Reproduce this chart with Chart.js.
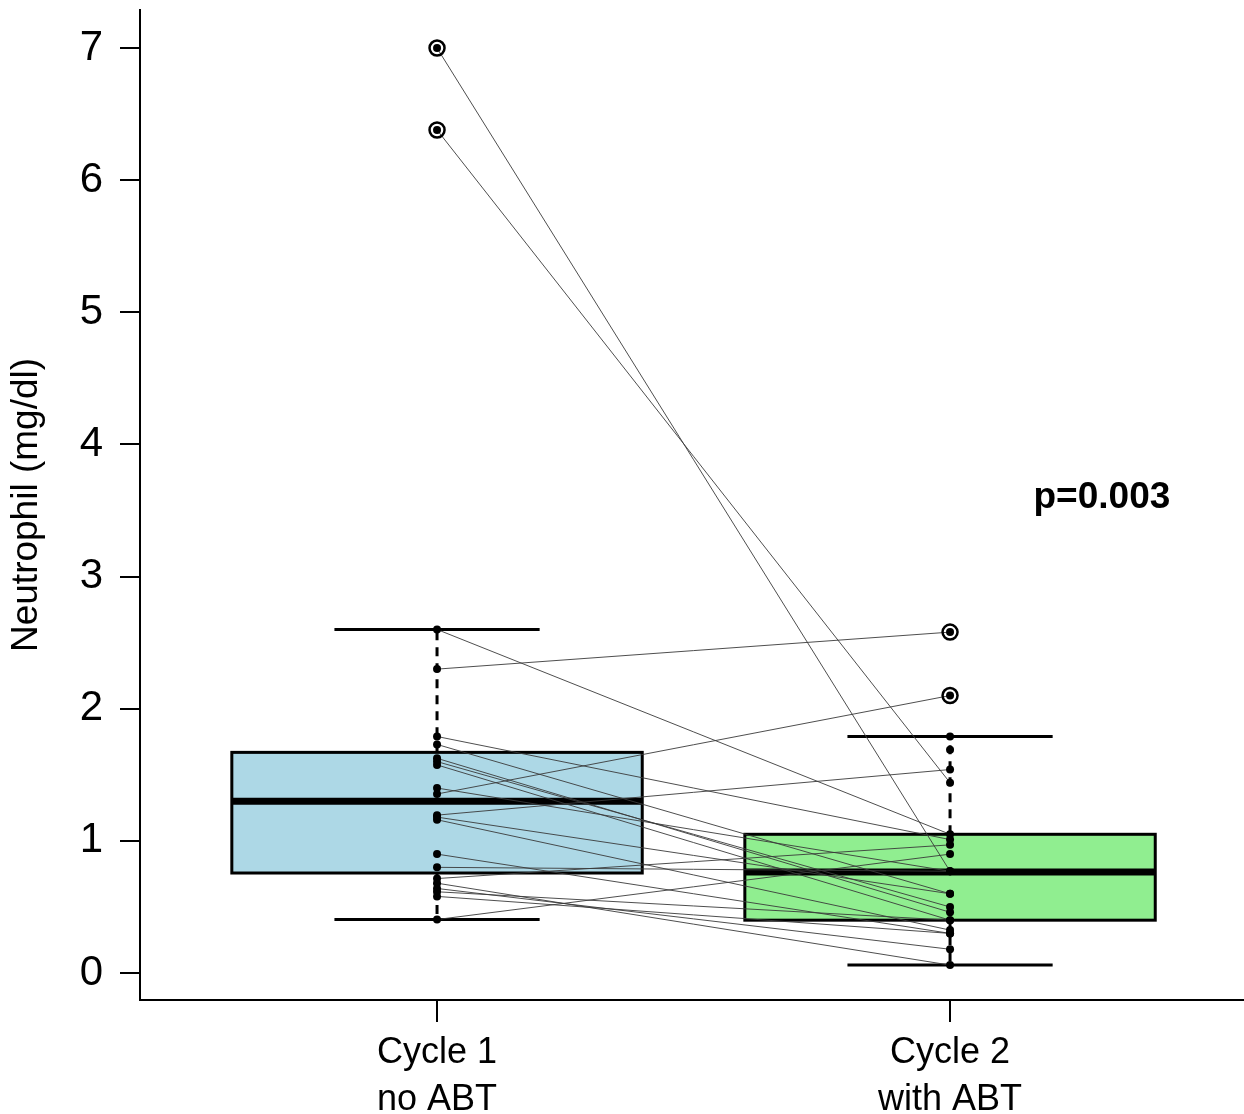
<!DOCTYPE html>
<html>
<head>
<meta charset="utf-8">
<script src="https://cdn.jsdelivr.net/npm/chart.js@4.4.0/dist/chart.umd.min.js"></script>
<style>
  html, body { margin: 0; padding: 0; background: #fff; overflow: hidden; }
  #wrap { width: 1244px; height: 1114px; }
</style>
</head>
<body>
<div id="wrap"><canvas id="chart"></canvas></div>
<script>
// Categorias e ticks
const categories = [['Cycle 1', 'no ABT'], ['Cycle 2', 'with ABT']];
const yTicks = [0, 1, 2, 3, 4, 5, 6, 7];

// Valores pareados por paciente (ciclo 1 -> ciclo 2)
const cycle1 = [7.00, 6.38, 2.60, 2.30, 1.79, 1.73, 1.625, 1.60, 1.575, 1.40, 1.355,
                1.195, 1.18, 1.16, 0.90, 0.80, 0.715, 0.68, 0.64, 0.615, 0.58, 0.405];
const cycle2 = [0.77, 1.44, 1.05, 2.58, 1.01, 0.60, 0.46, 0.50, 0.40, 0.77, 2.10,
                1.54, 0.60, 0.325, 0.30, 0.77, 0.97, 0.06, 0.18, 0.40, 0.30, 0.90];
// pontos só do ciclo 2 (sem linha)
const cycle2Only = [1.79, 1.69];

// Estatísticas do boxplot: [whisker baixo, Q1, mediana, Q3, whisker alto]
const box1 = [0.405, 0.757, 1.30, 1.67, 2.60];
const box2 = [0.06, 0.40, 0.765, 1.05, 1.79];
const outliers1 = [7.00, 6.38];
const outliers2 = [2.58, 2.10];
const boxColors = ['#ADD8E6', '#90EE90'];
const pLabel = 'p=0.003';

Chart.defaults.font.family = "'Liberation Sans', Arial, sans-serif";
Chart.defaults.color = '#000';

// Desenha as caixas por baixo dos pontos e linhas
const boxPlugin = {
    id: 'boxes',
    beforeDatasetsDraw(chart) {
        const { ctx, scales: { x, y } } = chart;
        [box1, box2].forEach((b, i) => {
            const cx = i + 1;
            const l = x.getPixelForValue(cx - 0.4), r = x.getPixelForValue(cx + 0.4);
            const cl = x.getPixelForValue(cx - 0.2), cr = x.getPixelForValue(cx + 0.2);
            const xm = x.getPixelForValue(cx);
            const [lo, q1, med, q3, hi] = b.map(v => y.getPixelForValue(v));
            ctx.save();
            ctx.strokeStyle = '#000';
            // whiskers tracejados
            ctx.lineWidth = 3;
            ctx.setLineDash([9, 7]);
            ctx.beginPath();
            ctx.moveTo(xm, q3); ctx.lineTo(xm, hi);
            ctx.moveTo(xm, q1); ctx.lineTo(xm, lo);
            ctx.stroke();
            ctx.setLineDash([]);
            // caps
            ctx.beginPath();
            ctx.moveTo(cl, hi); ctx.lineTo(cr, hi);
            ctx.moveTo(cl, lo); ctx.lineTo(cr, lo);
            ctx.stroke();
            // caixa
            ctx.fillStyle = boxColors[i];
            ctx.fillRect(l, q3, r - l, q1 - q3);
            ctx.strokeRect(l, q3, r - l, q1 - q3);
            // mediana
            ctx.lineWidth = 7;
            ctx.beginPath();
            ctx.moveTo(l, med); ctx.lineTo(r, med);
            ctx.stroke();
            ctx.restore();
        });
    },
    afterDatasetsDraw(chart) {
        const { ctx, scales: { x, y } } = chart;
        ctx.save();
        ctx.font = "bold 37px 'Liberation Sans', Arial, sans-serif";
        ctx.fillStyle = '#000';
        ctx.textAlign = 'center';
        ctx.textBaseline = 'middle';
        ctx.fillText(pLabel, x.getPixelForValue(2.296), y.getPixelForValue(3.6));
        ctx.restore();
    }
};

const pairSets = cycle1.map((v, i) => ({
    type: 'line',
    data: [{ x: 1, y: v }, { x: 2, y: cycle2[i] }],
    borderColor: '#3a3a3a',
    borderWidth: 0.9,
    pointRadius: 0,
    order: 3
}));

const pointSet = {
    type: 'scatter',
    data: cycle1.map(v => ({ x: 1, y: v }))
        .concat(cycle2.concat(cycle2Only).map(v => ({ x: 2, y: v }))),
    backgroundColor: '#000',
    borderWidth: 0,
    pointRadius: 4,
    order: 0
};

const outlierSet = {
    type: 'scatter',
    data: outliers1.map(v => ({ x: 1, y: v })).concat(outliers2.map(v => ({ x: 2, y: v }))),
    backgroundColor: 'rgba(0,0,0,0)',
    borderColor: '#000',
    borderWidth: 2.5,
    pointRadius: 7.5,
    order: 1
};

new Chart(document.getElementById('chart'), {
    type: 'scatter',
    data: { datasets: [pointSet, outlierSet].concat(pairSets) },
    options: {
        responsive: true,
        maintainAspectRatio: false,
        animation: false,
        layout: { autoPadding: false, padding: { top: 10, right: 0, left: 0, bottom: 0 } },
        plugins: { legend: { display: false }, tooltip: { enabled: false } },
        scales: {
            x: {
                type: 'linear',
                min: 0.421,
                max: 2.573,
                afterBuildTicks: s => { s.ticks = [1, 2].map(v => ({ value: v })); },
                afterFit: s => { s.height = 114; s.paddingLeft = 0; s.paddingRight = 0; },
                grid: { drawOnChartArea: false, drawTicks: true, tickLength: 22, color: '#000', lineWidth: 2 },
                border: { display: true, color: '#000', width: 2 },
                ticks: {
                    font: { size: 36, lineHeight: 1.3 },
                    color: '#000',
                    padding: 8,
                    maxRotation: 0,
                    autoSkip: false,
                    callback: v => categories[v - 1]
                }
            },
            y: {
                min: -0.204,
                max: 7.288,
                afterBuildTicks: s => { s.ticks = yTicks.map(v => ({ value: v })); },
                afterFit: s => { s.width = 140; s.paddingTop = 0; s.paddingBottom = 0; },
                grid: { drawOnChartArea: false, drawTicks: true, tickLength: 20, color: '#000', lineWidth: 2 },
                border: { display: true, color: '#000', width: 2 },
                ticks: { font: { size: 42 }, color: '#000', padding: 17 },
                title: {
                    display: true,
                    text: 'Neutrophil (mg/dl)',
                    font: { size: 37 },
                    color: '#000',
                    padding: { top: 5, bottom: 0 }
                }
            }
        }
    },
    plugins: [boxPlugin]
});
</script>
</body>
</html>
